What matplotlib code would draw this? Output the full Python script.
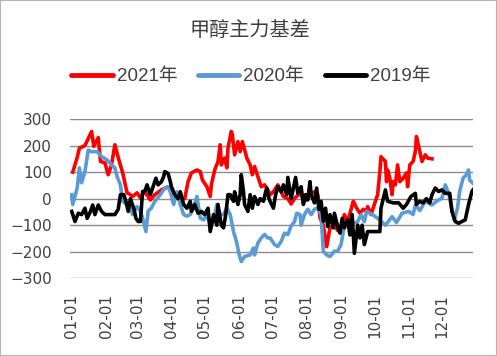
"""
Methanol main contract basis, 2019-2021, plotted by day of year
"""
import matplotlib
matplotlib.use("agg")
import matplotlib.pyplot as plt
from matplotlib.patches import Rectangle

TITLE = "甲醇主力基差"
SERIES_NAMES = ["2021年", "2020年", "2019年"]
MONTH_LABELS = ["01-01", "02-01", "03-01", "04-01", "05-01", "06-01",
                "07-01", "08-01", "09-01", "10-01", "11-01", "12-01"]
MONTH_DAYS = [0, 31, 59, 90, 120, 151, 181, 212, 243, 273, 304, 334]

# 2021, day of year -> basis
days_2021 = [1, 5, 7, 12, 18, 20, 24, 26, 30, 33, 36, 39, 42, 46, 50, 53, 55,
             59, 62, 66, 71, 75, 81, 87, 90, 98, 102, 105, 108, 113, 116, 118,
             122, 125, 126, 129, 132, 134, 135, 138, 140, 141, 144, 145, 147,
             150, 152, 154, 158, 161, 163, 165, 168, 171, 174, 177, 179, 182,
             186, 191, 195, 198, 201, 206, 210, 215, 219, 222, 224, 227, 230,
             233, 237, 240, 243, 246, 249, 254, 257, 260, 263, 266, 267, 270,
             273, 276, 278, 279, 283, 284, 285, 287, 289, 290, 292, 294, 296,
             299, 302, 303, 305, 308, 310, 311, 312, 314, 316, 319, 321, 325]
vals_2021 = [100, 155, 190, 200, 253, 197, 230, 140, 135, 90, 128, 203, 155,
             98, 22, 15, 8, 22, 3, 26, -5, 15, 33, 45, 26, 5, 0, 64, 97, 108,
             102, 70, 45, 8, 52, 108, 140, 203, 127, 153, 116, 190, 253, 240,
             165, 215, 177, 215, 153, 127, 90, 121, 83, 45, 52, 33, 15, 26,
             52, 8, 0, -20, 0, 22, -10, 15, 26, 15, -73, -100, -181, -110,
             -100, -120, -110, -60, -87, -10, -35, -55, -40, -47, -30, -60,
             -22, 15, 102, 158, 140, 64, 108, 77, 15, 64, 52, 127, 64, 77, 97,
             45, 127, 140, 178, 234, 215, 178, 140, 165, 153, 150]

# 2020
days_2020 = [0, 1, 5, 7, 9, 12, 15, 18, 23, 27, 32, 36, 39, 41, 44, 46, 50, 53,
             55, 59, 62, 64, 67, 69, 72, 75, 80, 84, 87, 89, 92, 95, 98, 101,
             104, 107, 110, 113, 116, 119, 122, 125, 128, 131, 134, 137, 140,
             143, 146, 149, 151, 153, 156, 161, 164, 165, 168, 171, 174, 177,
             179, 183, 186, 189, 192, 195, 198, 201, 203, 206, 207, 210, 213,
             216, 219, 222, 225, 227, 230, 233, 237, 240, 243, 246, 249, 254,
             258, 261, 264, 266, 272, 278, 283, 289, 293, 298, 304, 308, 310,
             314, 319, 325, 329, 334, 337, 340, 345, 348, 350, 353, 356, 358,
             359, 362]
vals_2020 = [15, -22, 40, 116, 60, 102, 183, 177, 177, 158, 146, 127, 116, 83,
             52, -10, -22, -35, -60, -30, -47, -73, -124, -47, -35, -10, 15,
             40, 45, 26, -22, 26, -22, -60, -66, -60, -35, 8, -73, -80, -60,
             -100, -87, -22, -60, -60, -35, -60, -124, -167, -210, -237, -218,
             -212, -186, -212, -167, -148, -135, -148, -148, -173, -180, -161,
             -130, -135, -103, -87, -55, -60, -100, -60, -40, -60, -40, -35,
             -60, -198, -212, -218, -198, -198, -173, -100, -87, -93, -87,
             -60, -87, -48, -62, -80, -100, -68, -90, -55, -48, -60, -24, -45,
             -10, -24, -10, 2, 52, 20, -80, -36, 27, 77, 90, 108, 70, 58]

# 2019
days_2019 = [0, 1, 3, 6, 9, 12, 14, 17, 19, 21, 24, 27, 30, 35, 39, 42, 44, 47,
             49, 51, 53, 56, 58, 60, 62, 64, 66, 68, 71, 74, 76, 78, 81, 83,
             84, 87, 89, 90, 93, 96, 98, 101, 104, 107, 108, 111, 114, 117,
             120, 123, 125, 128, 131, 132, 135, 137, 139, 141, 143, 146, 147,
             150, 152, 153, 155, 156, 159, 161, 163, 165, 168, 170, 173, 175,
             176, 178, 179, 182, 184, 186, 189, 191, 194, 195, 198, 200, 202,
             204, 207, 209, 211, 213, 215, 216, 219, 221, 223, 225, 227, 229,
             231, 233, 236, 237, 240, 242, 244, 246, 249, 251, 253, 255, 258,
             260, 262, 264, 267, 270, 273, 278, 279, 283, 285, 290, 295, 299,
             302, 306, 310, 311, 314, 317, 320, 323, 325, 328, 331, 334, 337,
             341, 343, 346, 349, 352, 355, 358, 361, 362]
vals_2019 = [-48, -60, -86, -55, -60, -36, -74, -48, -24, -60, -24, -48, -60,
             -60, -60, -40, 15, 15, -10, -48, 0, -36, -74, -86, -86, 27, 27,
             52, 15, 52, 77, 52, 64, 83, 102, 95, 64, 45, 15, 0, 26, -22, -36,
             -10, -48, -22, -55, -48, -60, -36, -124, -60, -100, -22, -100,
             -110, -60, 15, 15, -10, 26, -22, 15, 90, 26, -22, -48, 15, -36,
             8, -22, 0, -10, 26, 40, 0, -10, -36, 15, 45, 26, 52, 15, 80, 0,
             40, 80, 20, 45, -22, 15, -5, 64, 15, -16, 40, -40, -10, -86, -36,
             -105, -60, -110, -55, -105, -130, -74, -110, -80, -137, -60, -206,
             -100, -148, -100, -173, -124, -124, -124, -124, -36, 33, -10,
             -16, -16, -36, -22, 8, 20, -22, -10, -16, 0, -16, 15, 40, 27, 33,
             20, 20, -48, -86, -93, -86, -80, -22, 27, 33]

COLORS = ["#ff0000", "#5b9bd5", "#000000"]
TEXT_COLOR = "#404040"


def main():
    fig = plt.figure(figsize=(4.97, 3.56), dpi=100)
    ax = fig.add_axes([0.1408, 0.2183, 0.8109, 0.4474])

    series = [(days_2021, vals_2021), (days_2020, vals_2020),
              (days_2019, vals_2019)]
    for (d, v), name, c in zip(series, SERIES_NAMES, COLORS):
        ax.plot(d, v, color=c, lw=2.6, label=name, solid_joinstyle="round")

    ax.set_xlim(-1.5, 362)
    ax.set_ylim(-300, 300)
    ax.set_yticks(range(-300, 301, 100))
    ax.set_xticks(MONTH_DAYS)
    ax.set_xticklabels(MONTH_LABELS, rotation=90)
    ax.tick_params(axis="y", length=0, pad=13, labelsize=11,
                   labelcolor=TEXT_COLOR)
    ax.tick_params(axis="x", length=0, pad=11, labelsize=11,
                   labelcolor=TEXT_COLOR)
    for s in ax.spines.values():
        s.set_visible(False)
    ax.grid(axis="y", color="#8c8c8c", lw=1)
    ax.set_axisbelow(True)

    fig.text(0.503, 0.915, TITLE, ha="center", va="center", fontsize=14.5,
             color=TEXT_COLOR, family=["Noto Sans CJK SC"])

    leg = fig.legend(loc="center", bbox_to_anchor=(0.505, 0.784), ncol=3,
                     frameon=False, handlelength=2.2, handletextpad=0.22,
                     columnspacing=1.1,
                     prop={"family": ["Liberation Sans", "Noto Sans CJK SC"],
                           "size": 13.5})
    for t in leg.get_texts():
        t.set_color(TEXT_COLOR)
    for h in leg.legend_handles:
        h.set_linewidth(3.5)
        h.set_solid_capstyle("round")

    fig.patches.append(Rectangle((0, 0), 1, 1, transform=fig.transFigure,
                                 fill=False, edgecolor="#b4b4b4", lw=1.5))

    fig.savefig("out.png", dpi=100)


if __name__ == '__main__':
    main()
